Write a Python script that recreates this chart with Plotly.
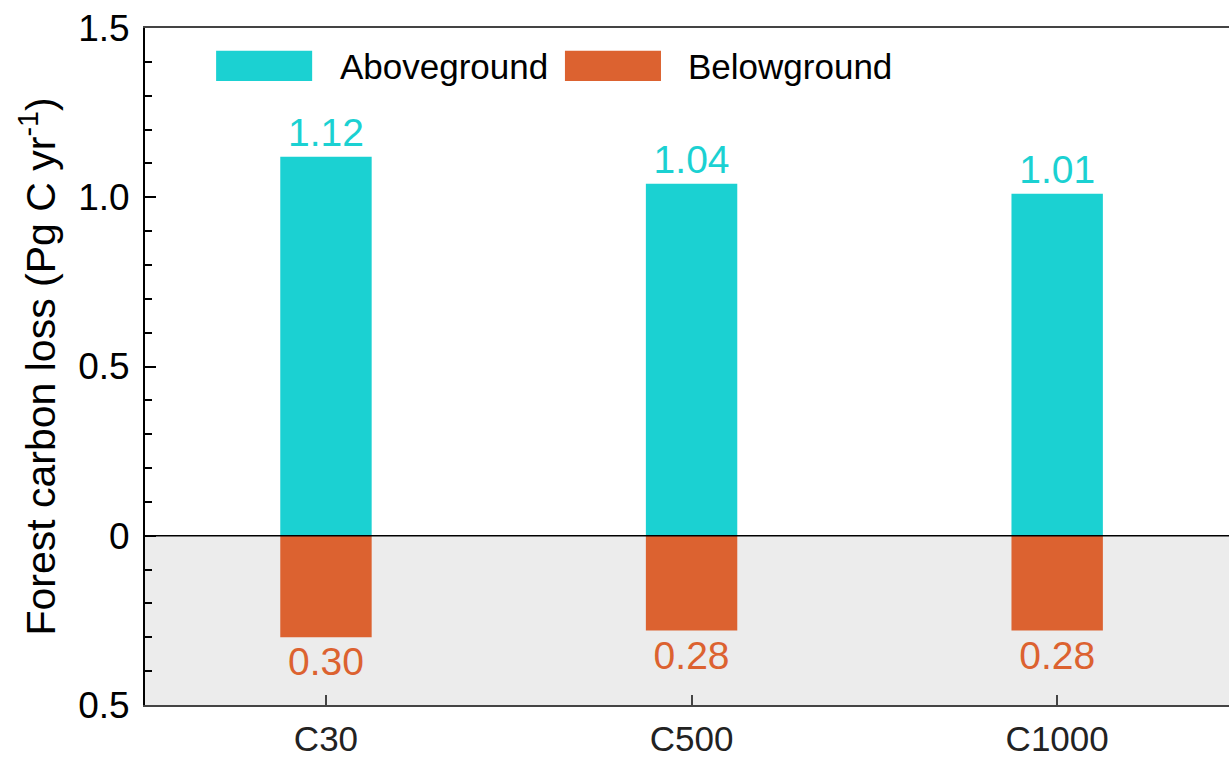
import plotly.graph_objects as go

# Forest carbon loss by scenario (Pg C per year)
scenarios = ["C30", "C500", "C1000"]
aboveground = [1.12, 1.04, 1.01]
belowground = [0.30, 0.28, 0.28]

teal = "#1bd1d2"
orange = "#dc6230"
font_family = "Liberation Sans, Arial, sans-serif"

fig = go.Figure()

fig.add_trace(go.Bar(
    x=scenarios, y=aboveground, name="Aboveground",
    marker=dict(color=teal, line=dict(width=0)),
    text=[f"{v:.2f}" for v in aboveground], textposition="outside",
    textfont=dict(color=teal, size=39, family=font_family),
    cliponaxis=False, width=0.25,
))
# belowground loss is plotted downward from zero, labelled with its magnitude
fig.add_trace(go.Bar(
    x=scenarios, y=[-v for v in belowground], name="Belowground",
    marker=dict(color=orange, line=dict(width=0)),
    text=[f"{v:.2f}" for v in belowground], textposition="outside",
    textfont=dict(color=orange, size=39, family=font_family),
    cliponaxis=False, width=0.25,
))

# grey band for the belowground half of the panel
fig.add_shape(type="rect", xref="paper", yref="y", x0=0, x1=1, y0=-0.5, y1=0,
              fillcolor="#ececec", line=dict(width=0), layer="below")
fig.add_shape(type="line", xref="paper", yref="y", x0=0, x1=1, y0=0, y1=0,
              line=dict(color="black", width=1.5), layer="above")

# legend swatches with long rectangles
legend_items = [("Aboveground", teal, 0.0656), ("Belowground", orange, 0.3874)]
for label, color, x0 in legend_items:
    fig.add_shape(type="rect", xref="paper", yref="paper",
                  x0=x0, x1=x0 + 0.0886, y0=0.9216, y1=0.9665,
                  fillcolor=color, line=dict(width=0))
    fig.add_annotation(xref="paper", yref="paper", x=x0 + 0.112, y=0.943,
                       text=label, showarrow=False, xanchor="left", yanchor="middle",
                       font=dict(size=35, color="black", family=font_family))

fig.update_layout(
    width=1229, height=760,
    margin=dict(l=145, r=0, t=28, b=55),
    paper_bgcolor="white", plot_bgcolor="white",
    barmode="relative", showlegend=False,
    font=dict(family=font_family, color="black"),
)

fig.update_xaxes(
    range=[-0.495, 2.47],
    showline=True, linecolor="#444444", linewidth=2, mirror=True,
    ticks="inside", ticklen=10, tickwidth=2, tickcolor="#444444",
    tickfont=dict(size=35, color="#222222"),
    ticklabelstandoff=2, automargin=False,
    showgrid=False, zeroline=False,
)
fig.update_yaxes(
    range=[-0.5, 1.5],
    tickvals=[-0.5, 0, 0.5, 1.0, 1.5],
    ticktext=["0.5", "0", "0.5", "1.0", "1.5"],
    showline=True, linecolor="black", linewidth=2,
    ticks="inside", ticklen=11, tickwidth=2, tickcolor="black",
    minor=dict(dtick=0.1, ticks="inside", ticklen=7, tickwidth=1.5, tickcolor="black"),
    tickfont=dict(size=37, color="black"),
    ticklabelstandoff=6, automargin=False,
    title=dict(text="Forest carbon loss (Pg C yr<sup>-1</sup>)",
               font=dict(size=41, color="black"), standoff=10),
    showgrid=False, zeroline=False,
)

fig.write_html("out.html")
